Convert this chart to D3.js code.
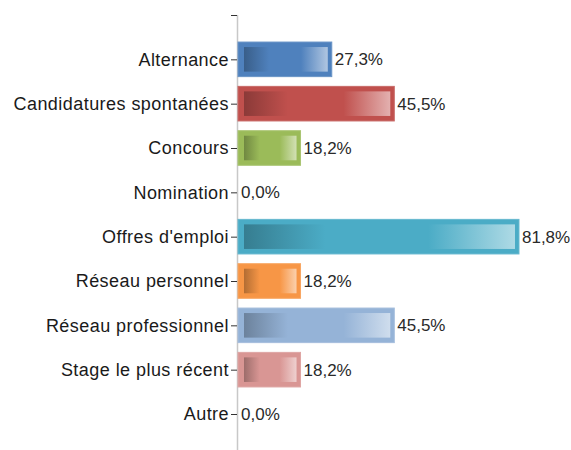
<!DOCTYPE html>
<html lang="fr">
  <head>
    <meta charset="UTF-8" />
    <title>Sources</title>
    <style>
      body { margin: 0; background: #fff; }
      text { font-family: "Liberation Sans", Arial, sans-serif; }
    </style>
  </head>
  <body>
    <script src="https://d3js.org/d3.v7.min.js"></script>
    <script>
      const categories = [
        "Alternance",
        "Candidatures spontanées",
        "Concours",
        "Nomination",
        "Offres d'emploi",
        "Réseau personnel",
        "Réseau professionnel",
        "Stage le plus récent",
        "Autre",
      ];
      const values = [27.3, 45.5, 18.2, 0.0, 81.8, 18.2, 45.5, 18.2, 0.0];
      const colors = [
        "#4f81bd", "#c0504d", "#9bbb59", "#4bacc6", "#4bacc6",
        "#f79646", "#95b3d7", "#d99694", "#d99694",
      ];

      const width = 571;
      const height = 450;

      const svg = d3
        .select("body")
        .append("svg")
        .attr("width", width)
        .attr("height", height);

      const xScale = d3.scaleLinear().domain([0, 100]).range([238, 581.5]);

      // blank first slot gives the top tick
      const yScale = d3
        .scalePoint()
        .domain(["", ...categories])
        .range([15, 414]);

      const barH = yScale.step() * 0.78;
      const fmt = (v) => v.toFixed(1).replace(".", ",") + "%";

      const data = categories.map((name, i) => ({
        name,
        value: values[i],
        color: colors[i],
      }));

      const defs = svg.append("defs");
      data.forEach((d, i) => {
        const c = d3.color(d.color);
        const g = defs
          .append("linearGradient")
          .attr("id", "grad" + i)
          .attr("x1", "0%")
          .attr("x2", "100%");
        g.append("stop").attr("offset", "0%").attr("stop-color", c.darker(0.9));
        g.append("stop").attr("offset", "30%").attr("stop-color", c);
        g.append("stop").attr("offset", "68%").attr("stop-color", c);
        g.append("stop")
          .attr("offset", "100%")
          .attr("stop-color", d3.interpolateRgb(c, "#fff")(0.55));
      });

      // axis line
      svg
        .append("line")
        .attr("x1", 237.5)
        .attr("x2", 237.5)
        .attr("y1", yScale(""))
        .attr("y2", height)
        .attr("stroke", "#c8c8c8")
        .attr("stroke-width", 1.5);

      const yAxis = d3.axisLeft(yScale).tickSize(6).tickPadding(2);
      svg
        .append("g")
        .attr("transform", "translate(237, 0)")
        .call(yAxis)
        .call((g) => g.select(".domain").remove())
        .call((g) => g.selectAll(".tick line").attr("stroke", "#333"))
        .call((g) =>
          g
            .selectAll(".tick text")
            .attr("font-size", 18)
            .attr("letter-spacing", "0.45px")
            .attr("fill", "#1a1a1a")
        );

      const bars = svg
        .append("g")
        .selectAll("g")
        .data(data.filter((d) => d.value > 0))
        .join("g");

      bars
        .append("rect")
        .attr("x", xScale(0))
        .attr("y", (d) => yScale(d.name) - barH / 2)
        .attr("width", (d) => xScale(d.value) - xScale(0))
        .attr("height", barH)
        .attr("fill", (d) => d.color)
        .attr("stroke", (d) => d3.interpolateRgb(d.color, "#fff")(0.15))
        .attr("stroke-width", 1);

      bars
        .append("rect")
        .attr("x", xScale(0) + 6)
        .attr("y", (d) => yScale(d.name) - barH / 2 + 5)
        .attr("width", (d) => xScale(d.value) - xScale(0) - 10)
        .attr("height", barH - 10)
        .attr("fill", (d) => "url(#grad" + categories.indexOf(d.name) + ")");

      svg
        .append("g")
        .selectAll("text")
        .data(data)
        .join("text")
        .attr("x", (d) => xScale(d.value) + 3)
        .attr("y", (d) => yScale(d.name))
        .attr("dy", "0.35em")
        .attr("font-size", 17)
        .attr("fill", "#2a2a2a")
        .text((d) => fmt(d.value));
    </script>
  </body>
</html>
